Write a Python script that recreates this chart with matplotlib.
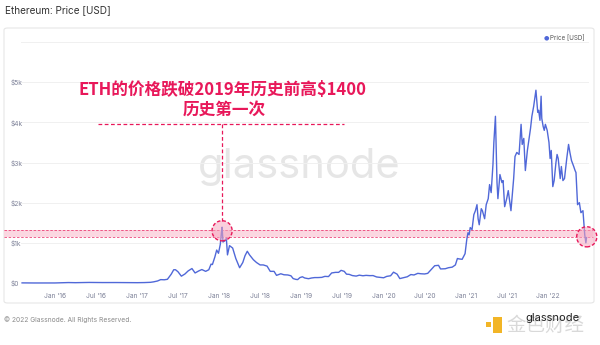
import matplotlib
matplotlib.use("Agg")
import matplotlib.pyplot as plt
from matplotlib.patches import FancyBboxPatch, Rectangle
import pandas as pd

# ETH price (USD)
dates = [
    "2015-08-08", "2015-09-01", "2015-10-01", "2015-11-01", "2015-12-01",
    "2016-01-01", "2016-02-01", "2016-03-01", "2016-04-01", "2016-05-01", "2016-06-01",
    "2016-07-01", "2016-08-01", "2016-09-01", "2016-10-01", "2016-11-01", "2016-12-01",
    "2017-01-01", "2017-02-01", "2017-03-01", "2017-03-15", "2017-04-01", "2017-04-15",
    "2017-05-01", "2017-05-15", "2017-06-01", "2017-06-12", "2017-06-20", "2017-07-01",
    "2017-07-16", "2017-08-01", "2017-08-15", "2017-09-01", "2017-09-15", "2017-10-01",
    "2017-10-15", "2017-11-01", "2017-11-15", "2017-11-25", "2017-12-01", "2017-12-12",
    "2017-12-20", "2017-12-28", "2018-01-05", "2018-01-10", "2018-01-13", "2018-01-17",
    "2018-01-25", "2018-02-01", "2018-02-06", "2018-02-15", "2018-03-01", "2018-03-15",
    "2018-04-01", "2018-04-15", "2018-04-25", "2018-05-05", "2018-05-15", "2018-06-01",
    "2018-06-15", "2018-07-01", "2018-07-15", "2018-08-01", "2018-08-15", "2018-09-01",
    "2018-09-12", "2018-10-01", "2018-10-15", "2018-11-01", "2018-11-15", "2018-11-25",
    "2018-12-07", "2018-12-15", "2018-12-25",
    "2019-01-05", "2019-01-15", "2019-02-01", "2019-02-15", "2019-03-01", "2019-03-15",
    "2019-04-01", "2019-04-15", "2019-05-01", "2019-05-15", "2019-06-01", "2019-06-15",
    "2019-06-26", "2019-07-10", "2019-07-20", "2019-08-01", "2019-08-15", "2019-09-01",
    "2019-09-15", "2019-10-01", "2019-10-15", "2019-11-01", "2019-11-15", "2019-12-01",
    "2019-12-15",
    "2020-01-01", "2020-01-15", "2020-02-01", "2020-02-14", "2020-03-01", "2020-03-13",
    "2020-04-01", "2020-04-15", "2020-05-01", "2020-05-15", "2020-06-01", "2020-06-15",
    "2020-07-01", "2020-07-15", "2020-08-01", "2020-08-15", "2020-09-01", "2020-09-10",
    "2020-10-01", "2020-10-15", "2020-11-01", "2020-11-15", "2020-11-24", "2020-12-01",
    "2020-12-15", "2020-12-28",
    "2021-01-05", "2021-01-10", "2021-01-15", "2021-01-20", "2021-01-28", "2021-02-05",
    "2021-02-12", "2021-02-19", "2021-02-24", "2021-03-01", "2021-03-10", "2021-03-15",
    "2021-03-25", "2021-04-01", "2021-04-10", "2021-04-16", "2021-04-23", "2021-05-01",
    "2021-05-05", "2021-05-12", "2021-05-19", "2021-05-23", "2021-06-01", "2021-06-10",
    "2021-06-15", "2021-06-22", "2021-07-01", "2021-07-08", "2021-07-20", "2021-08-01",
    "2021-08-07", "2021-08-15", "2021-08-25", "2021-09-03", "2021-09-08", "2021-09-15",
    "2021-09-22", "2021-10-01", "2021-10-08", "2021-10-15", "2021-10-21", "2021-10-29",
    "2021-11-08", "2021-11-16", "2021-11-20", "2021-11-26", "2021-12-01", "2021-12-04",
    "2021-12-10", "2021-12-15", "2021-12-20", "2021-12-28",
    "2022-01-05", "2022-01-10", "2022-01-15", "2022-01-22", "2022-01-28", "2022-02-05",
    "2022-02-10", "2022-02-15", "2022-02-24", "2022-03-01", "2022-03-08", "2022-03-15",
    "2022-03-25", "2022-04-02", "2022-04-08", "2022-04-15", "2022-04-25", "2022-05-01",
    "2022-05-05", "2022-05-12", "2022-05-20", "2022-05-27", "2022-06-05", "2022-06-13",
    "2022-06-18", "2022-06-21",
]
prices = [
    2.8, 1.2, 0.6, 0.9, 0.9,
    1.0, 5.5, 11, 8, 12, 14,
    12, 11, 12.5, 11.5, 9.5, 8,
    8, 10.7, 17, 29, 50, 84,
    80, 92, 220, 330, 330, 280,
    170, 225, 300, 360, 250, 300,
    335, 290, 330, 470, 460, 650,
    820, 740, 960, 1250, 1390, 1020,
    1050, 1110, 700, 930, 870, 610,
    380, 510, 680, 790, 700, 580,
    510, 450, 450, 420, 290, 290,
    190, 230, 205, 200, 180, 110,
    90, 85, 135,
    155, 125, 107, 125, 135, 135,
    140, 165, 160, 250, 265, 265,
    315, 290, 220, 215, 185, 172,
    195, 180, 190, 183, 185, 150,
    142,
    130, 165, 180, 270, 220, 110,
    135, 155, 210, 200, 240, 230,
    225, 240, 345, 430, 440, 350,
    355, 380, 395, 450, 610, 600,
    590, 730,
    1100, 1250, 1200, 1380, 1330, 1700,
    1800, 1950, 1600, 1450, 1850, 1800,
    1600, 1950, 2100, 2450, 2250, 2950,
    3500, 4150, 2500, 2100, 2700, 2500,
    2550, 1900, 2100, 2300, 1800, 2600,
    3150, 3250, 3200, 3950, 3450, 3600,
    2800, 3300, 3580, 3850, 4150, 4400,
    4800, 4250, 4300, 4050, 4650, 4100,
    3900, 3800, 3950, 3800,
    3500, 3100, 3300, 2400, 2550, 3000,
    3200, 3100, 2600, 2900, 2550, 2600,
    3100, 3450, 3250, 3050, 2900, 2800,
    2750, 1950, 2000, 1750, 1800, 1200,
    1000, 1130,
]

ytick_vals = [0, 1000, 2000, 3000, 4000, 5000, 6000]
ytick_labels = ["$0", "$1k", "$2k", "$3k", "$4k", "$5k", ""]
xtick_dates = ["2016-01-01", "2016-07-01", "2017-01-01", "2017-07-01", "2018-01-01",
               "2018-07-01", "2019-01-01", "2019-07-01", "2020-01-01", "2020-07-01",
               "2021-01-01", "2021-07-01", "2022-01-01"]
xtick_labels = ["Jan '16", "Jul '16", "Jan '17", "Jul '17", "Jan '18", "Jul '18",
                "Jan '19", "Jul '19", "Jan '20", "Jul '20", "Jan '21", "Jul '21", "Jan '22"]

# annotation data
band_low, band_high = 1150, 1330
circle_dates = ["2018-01-13", "2022-06-22"]
circle_prices = [1300, 1150]
guide_level = 3950
guide_start, guide_end = "2016-07-12", "2019-07-08"

LINE = "#5068d8"
PINK = "#e8185a"
TICK = "#7d8198"

cjk = ["Noto Sans CJK SC", "DejaVu Sans"]
plt.rcParams["font.family"] = ["Inter", "DejaVu Sans"]

W, H = 600, 345
fig = plt.figure(figsize=(6, 3.45), dpi=100)

# panel frame
fig.patches.append(FancyBboxPatch((4 / W, (H - 303) / H), 590 / W, 275 / H,
                                  boxstyle="round,pad=0,rounding_size=0.006",
                                  transform=fig.transFigure, facecolor="white",
                                  edgecolor="#e6e6e6", linewidth=0.8, zorder=-5))

ax = fig.add_axes([20.5 / W, (H - 283) / H, (588.8 - 20.5) / W, 241 / H])
ax.set_facecolor("none")

x = pd.to_datetime(dates)
ax.plot(x, prices, color=LINE, linewidth=1.0, zorder=3, clip_on=False)

ax.set_xlim(pd.Timestamp("2015-08-01"), pd.Timestamp("2022-07-01"))
ax.set_ylim(0, 6000)
ax.set_yticks(ytick_vals)
ax.set_yticklabels(ytick_labels)
ax.set_xticks(pd.to_datetime(xtick_dates))
ax.set_xticklabels(xtick_labels)
ax.tick_params(axis="both", length=0, labelsize=4.8, colors=TICK)
ax.tick_params(axis="x", pad=7)
ax.tick_params(axis="y", pad=7)
for lab in ax.get_yticklabels():
    lab.set_horizontalalignment("left")
for s in ax.spines.values():
    s.set_visible(False)
ax.grid(axis="y", color="#f0f0f0", linewidth=0.7, zorder=0)

# watermark
ax.text(0.49, 0.48, "glassnode", transform=ax.transAxes, ha="center", va="center",
        fontsize=30, color="#e6e6e6", zorder=1)

# pink band across the panel
band = Rectangle((-0.029, band_low), 1.036, band_high - band_low,
                 transform=ax.get_yaxis_transform(), facecolor="#fbd3de",
                 edgecolor="none", alpha=0.9, zorder=1, clip_on=False)
ax.add_patch(band)
for yv in (band_low, band_high):
    ax.plot([-0.029, 1.007], [yv, yv], transform=ax.get_yaxis_transform(),
            color=PINK, linestyle=(0, (3, 2)), linewidth=0.6, alpha=0.8,
            clip_on=False, zorder=2)

# circles
ax.scatter(pd.to_datetime(circle_dates), circle_prices, s=210, facecolor="#f7a9c0",
           alpha=0.55, edgecolor="none", zorder=4, clip_on=False)
ax.scatter(pd.to_datetime(circle_dates), circle_prices, s=210, facecolor="none",
           edgecolor=PINK, linewidths=1.0, linestyles=(0, (2.5, 1.5)), zorder=5,
           clip_on=False)

# guide lines
ax.plot(pd.to_datetime([guide_start, guide_end]), [guide_level, guide_level],
        color=PINK, linestyle=(0, (3, 2)), linewidth=0.9, zorder=4)
ax.plot(pd.to_datetime([circle_dates[0], circle_dates[0]]), [guide_level, circle_prices[0] + 250],
        color=PINK, linestyle=(0, (3, 2)), linewidth=0.9, zorder=4)

# headline
fig.text(222 / W, 1 - 90 / H, "ETH的价格跌破2019年历史前高$1400", ha="center", va="center",
         fontsize=12, fontweight="bold", color=PINK, family=cjk)
fig.text(224 / W, 1 - 110 / H, "历史第一次", ha="center", va="center",
         fontsize=12, fontweight="bold", color=PINK, family=cjk)

# title, legend, footer
fig.text(5 / W, 1 - 10 / H, "Ethereum: Price [USD]", ha="left", va="center",
         fontsize=7.2, color="#333333")
fig.text(544 / W, 1 - 38 / H, "\u25cf", ha="left", va="center", fontsize=4.5,
         color=LINE, family=["DejaVu Sans"])
fig.text(550 / W, 1 - 38 / H, "Price [USD]", ha="left", va="center", fontsize=4.5,
         color="#555555")
fig.text(4 / W, 1 - 320 / H, "\u00a9 2022 Glassnode. All Rights Reserved.", ha="left",
         va="center", fontsize=4.8, color="#8a8a8a")

# corner watermark
fig.patches.append(Rectangle((493 / W, 1 - 333 / H), 9 / W, 16 / H, transform=fig.transFigure,
                             facecolor="#f2b526", edgecolor="none"))
fig.patches.append(Rectangle((486 / W, 1 - 327 / H), 5 / W, 5 / H, transform=fig.transFigure,
                             facecolor="#f2b526", edgecolor="none"))
fig.text(506 / W, 1 - 325 / H, "金色财经", ha="left", va="center", fontsize=14,
         color="#d9d9d9", family=cjk)
fig.text(525 / W, 1 - 318 / H, "glassnode", ha="left", va="center", fontsize=8,
         color="#222222")

fig.savefig("out.png", dpi=100, facecolor="white")
